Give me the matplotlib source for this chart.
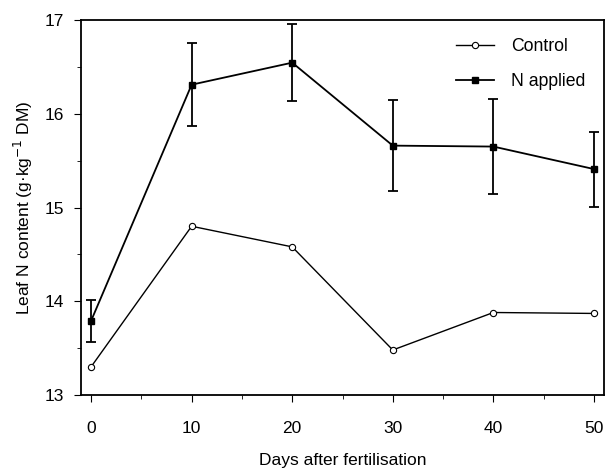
import matplotlib.pyplot as plt
from matplotlib.lines import Line2D
from matplotlib.ticker import MultipleLocator

plt.rcParams['font.family'] = ['Liberation Sans', 'DejaVu Sans']

days = [0, 10, 20, 30, 40, 50]
control = [13.30, 14.80, 14.58, 13.48, 13.88, 13.87]
n_applied = [13.79, 16.31, 16.545, 15.66, 15.65, 15.41]
n_err = [0.22, 0.445, 0.41, 0.485, 0.51, 0.40]

fig = plt.figure(figsize=(6.06, 4.71), dpi=100)
# axes box: x 81..604 px, y 20..395 px
ax = fig.add_axes([81/606, 76/471, 523/606, 375/471])

ax.plot(days, control, color="black", lw=1, marker="o", ms=4.5,
        mfc="white", mec="black", mew=0.8)
ax.errorbar(days, n_applied, yerr=n_err, color="black", lw=1.3, marker="s",
            ms=5, capsize=3.5, elinewidth=1.3, capthick=1.3)

ax.set_xlim(-1, 51)
ax.set_ylim(13, 17)
ax.xaxis.set_major_locator(MultipleLocator(10))
ax.xaxis.set_minor_locator(MultipleLocator(5))
ax.yaxis.set_major_locator(MultipleLocator(1))
ax.yaxis.set_minor_locator(MultipleLocator(0.5))
ax.tick_params(which="both", direction="out", labelsize=12.5)
ax.tick_params(which="major", length=5)
ax.tick_params(which="minor", length=3)
ax.tick_params(axis="x", which="major", pad=14)
ax.tick_params(axis="y", which="major", pad=7)
for s in ax.spines.values():
    s.set_linewidth(1.3)

ax.set_xlabel("Days after fertilisation", fontsize=12.5, labelpad=12)
ax.set_ylabel("Leaf N content (g\u00b7kg$^{-1}$ DM)", fontsize=12.5, labelpad=7)

handles = [
    Line2D([], [], color="black", lw=1, marker="o", ms=4.5, mfc="white",
           mec="black", mew=0.8),
    Line2D([], [], color="black", lw=1.3, marker="s", ms=5),
]
ax.legend(handles, ["Control", "N applied"], loc="upper left",
          bbox_to_anchor=(0.717, 0.951), borderaxespad=0, borderpad=0,
          frameon=False, fontsize=12.7, handlelength=2.15,
          handletextpad=0.95, labelspacing=1.0)

fig.savefig("out.png", dpi=100)
